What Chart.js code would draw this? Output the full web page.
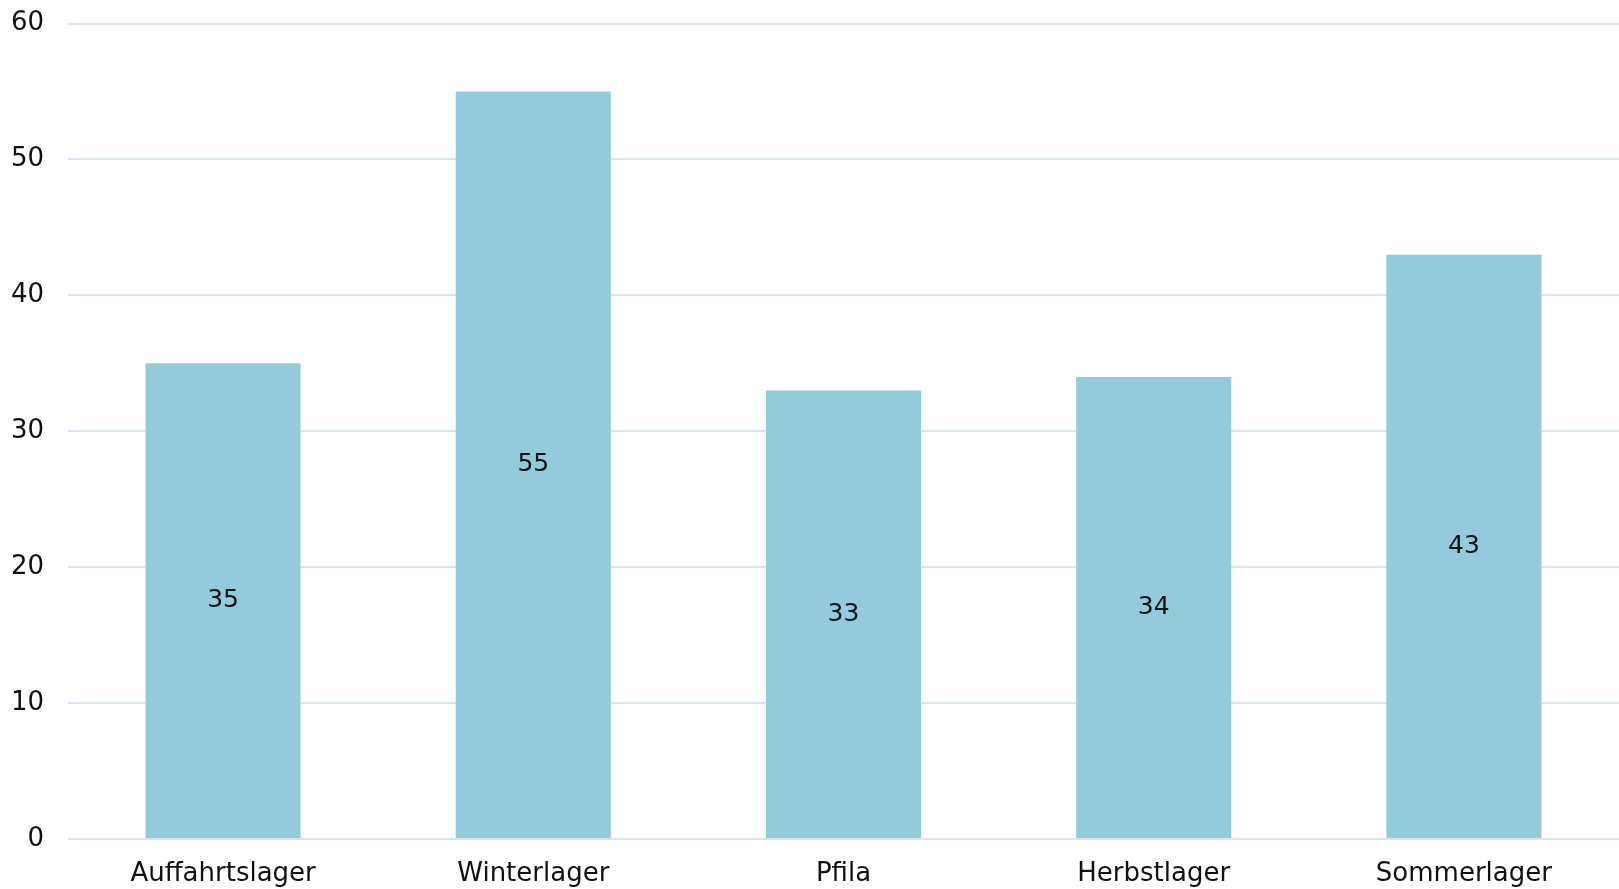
<!DOCTYPE html>
<html>
<head>
<meta charset="utf-8">
<script src="https://cdn.jsdelivr.net/npm/chart.js@4/dist/chart.umd.min.js"></script>
<style>
  html, body { margin: 0; padding: 0; background: #fff; overflow: hidden; }
  #wrap { position: relative; top: -16px; width: 1619px; height: 905px; }
</style>
</head>
<body>
<div id="wrap"><canvas id="chart"></canvas></div>
<script>
const lager = ['Auffahrtslager', 'Winterlager', 'Pfila', 'Herbstlager', 'Sommerlager'];
const teilnehmer = [35, 55, 33, 34, 43];
const yTicks = [0, 10, 20, 30, 40, 50, 60];

// Werte mittig in die Balken schreiben
const wertLabels = {
    id: 'wertLabels',
    afterDatasetsDraw(chart) {
        const ctx = chart.ctx;
        const meta = chart.getDatasetMeta(0);
        ctx.save();
        ctx.font = '25px "DejaVu Sans", sans-serif';
        ctx.fillStyle = '#111';
        ctx.textAlign = 'center';
        ctx.textBaseline = 'middle';
        meta.data.forEach((bar, i) => {
            const mitte = (bar.y + bar.base) / 2;
            ctx.fillText(String(teilnehmer[i]), bar.x, mitte);
        });
        ctx.restore();
    }
};

new Chart(document.getElementById('chart'), {
    type: 'bar',
    data: {
        labels: lager,
        datasets: [{
            data: teilnehmer,
            backgroundColor: '#94cbdc',
            barPercentage: 0.5,
            categoryPercentage: 1
        }]
    },
    options: {
        responsive: true,
        maintainAspectRatio: false,
        animation: false,
        layout: { padding: 0 },
        plugins: { legend: { display: false }, tooltip: { enabled: false } },
        scales: {
            x: {
                afterFit(scale) { scale.height = 50; },
                grid: { display: false, drawTicks: false },
                border: { display: false },
                ticks: {
                    color: '#111',
                    padding: 20,
                    font: { family: '"DejaVu Sans", sans-serif', size: 26 }
                }
            },
            y: {
                min: 0,
                max: 60,
                afterFit(scale) { scale.width = 68; },
                afterBuildTicks(scale) { scale.ticks = yTicks.map(v => ({ value: v })); },
                grid: { color: '#d9e4f2', lineWidth: 2, drawTicks: false },
                border: { display: false },
                ticks: {
                    color: '#111',
                    padding: 24,
                    font: { family: '"DejaVu Sans", sans-serif', size: 26 }
                }
            }
        }
    },
    plugins: [wertLabels]
});
</script>
</body>
</html>
